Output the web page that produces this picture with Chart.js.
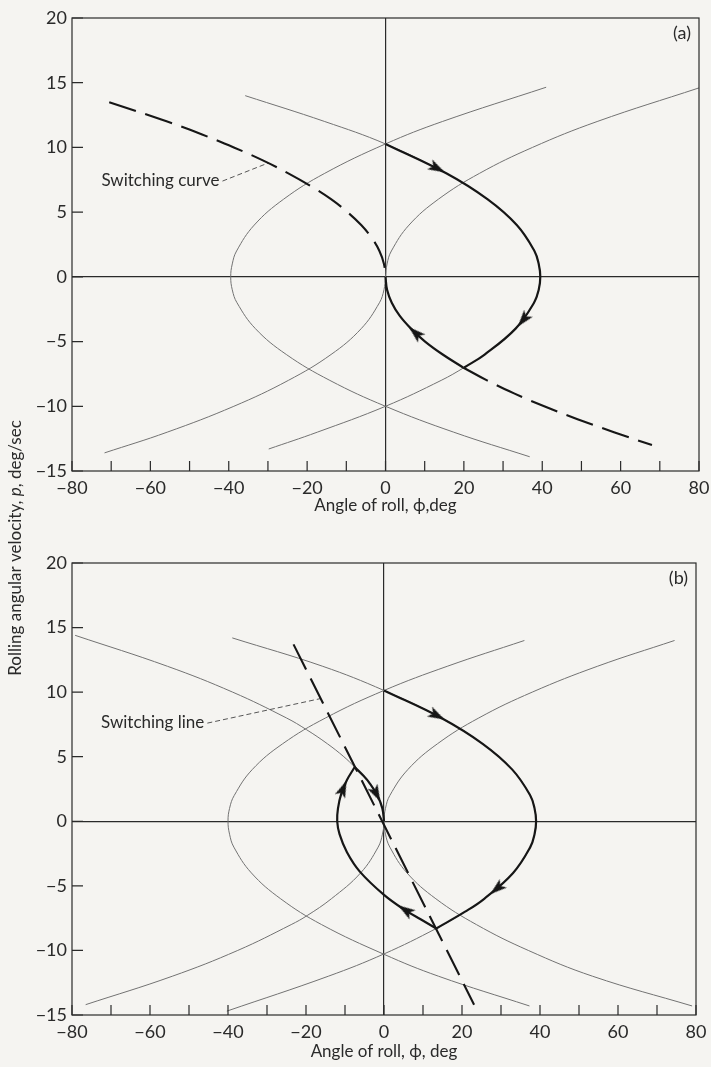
<!DOCTYPE html>
<html><head><meta charset="utf-8">
<script src="https://cdn.jsdelivr.net/npm/chart.js@4.4.1/dist/chart.umd.min.js"></script>
<style>
html,body{margin:0;padding:0;background:#f5f4f1;}
#wrap{position:relative;width:711px;height:1067px;overflow:hidden;background:#f5f4f1;}
canvas{position:absolute;left:0;}
</style></head>
<body><div id="wrap">
<canvas id="ca" width="711" height="1067" style="top:0"></canvas>
<canvas id="cb" width="711" height="527" style="top:540px"></canvas>
</div>
<script>
// ---------- tick labels ----------
const xTickLabels = [-80, -60, -40, -20, 0, 20, 40, 60, 80];
const yTickLabels = [-15, -10, -5, 0, 5, 10, 15, 20];

// ---------- panel (a) curves: phi (deg), p (deg/sec) ----------
const aR40_phi = [36.8, 17.4, 0, -14.2, -25.3, -33.2, -37.9, -39.1, -39.5, -39.1, -38, -33.5, -26, -15.5, 0, 14.5, 41];
const aR40_p   = [-13.9, -12, -10, -8, -6, -4, -2, -1, 0, 1, 2, 4, 6, 8, 10.27, 12, 14.65];

const aL40_phi = [-35.8, -15.5, 0, 15.5, 26, 33.5, 38, 39.1, 39.5, 39.1, 37.9, 33.2, 25.3, 20.1, 14.2, 0, -17.4, -29.8];
const aL40_p   = [14.0, 12, 10.27, 8, 6, 4, 2, 1, 0, -1, -2, -4, -6, -7, -8, -10, -12, -13.3];

const aV0R_phi = [80, 54, 37.5, 24, 13.5, 6, 1.5, 0.4, 0, 0.4, 1.6, 3.6, 6.5, 10.1, 14.6, 19.8, 25.9, 32.8, 40.5, 49, 58.3, 68];
const aV0R_p   = [14.6, 12, 10, 8, 6, 4, 2, 1, 0, -1, -2, -3, -4, -5, -6, -7, -8, -9, -10, -11, -12, -13];

const aV0L_phi = [-70.5, -55.7, -46.8, -38.7, -31.3, -24.8, -19, -13.9, -9.7, -6.2, -3.5, -1.55, -0.39, 0, -0.39, -1.55, -6.2, -13.9, -24.8, -38.7, -55.7, -71.7];
const aV0L_p   = [13.5, 12, 11, 10, 9, 8, 7, 6, 5, 4, 3, 2, 1, 0, -1, -2, -4, -6, -8, -10, -12, -13.6];

const aArrow_phi = [13.1, 35.2, 7.7];
const aArrow_p   = [8.4, -3.3, -4.35];
const aArrowTo_phi = [15.0, 34.4, 6.6];
const aArrowTo_p   = [8.1, -3.6, -4.05];

const aLeader_phi = [-41.6, -29.9];
const aLeader_p   = [7.4, 8.8];

// ---------- panel (b) curves ----------
const bR40_phi = [37.3, 14, 0, -16, -26.5, -34, -38.5, -39.6, -40, -39.6, -38.4, -33.8, -26, -15, 0, 16.2, 36];
const bR40_p   = [-14.3, -12, -10.3, -8, -6, -4, -2, -1, 0, 1, 2, 4, 6, 8, 10.13, 12, 14.0];

const bL39_phi = [-38.9, -15.7, 0, 14.7, 25.3, 32.9, 37.5, 38.6, 39, 38.6, 37.5, 33.1, 25.7, 20.8, 13.4, 0, -14.3, -40.3];
const bL39_p   = [14.2, 12, 10.13, 8, 6, 4, 2, 1, 0, -1, -2, -4, -6, -7, -8.3, -10.27, -12, -14.7];

const bV0R_phi = [74.5, 54.7, 38, 24.3, 13.7, 6.1, 1.5, 0.38, 0, 0.38, 1.5, 5.9, 13.3, 23.7, 37, 53.5, 79];
const bV0R_p   = [14, 12, 10, 8, 6, 4, 2, 1, 0, -1, -2, -4, -6, -8, -10, -12, -14.3];

const bV0L_phi = [-79.2, -55.5, -38.8, -25, -19.9, -14.5, -10.3, -7.5, -5.2, -3.8, -1.7, -0.42, 0, -0.4, -1.5, -6, -13.5, -19.7, -23.8, -37.5, -54.3, -76.5];
const bV0L_p   = [14.4, 12, 10, 8, 7.1, 6, 5, 4.2, 3.5, 3, 2, 1, 0, -1, -2, -4, -6, -7.3, -8, -10, -12, -14.2];

const bLoop_phi = [13.4, 9.5, 5.5, 0, -6.2, -9.5, -11.4, -12, -11.8, -10.9, -9.5, -7.5];
const bLoop_p   = [-8.3, -7.6, -6.9, -5.7, -3.9, -2.4, -1.0, 0, 1.0, 2.2, 3.2, 4.2];

const bSwitch_phi = [-23.2, 23.1];
const bSwitch_p   = [13.7, -14.2];

const bArrow_phi = [13.5, 29.0, 5.6, -10.5, -2.0];
const bArrow_p   = [8.2, -5.2, -6.9, 2.5, 2.15];
const bArrowTo_phi = [15.4, 27.8, 4.1, -10.0, -1.4];
const bArrowTo_p   = [7.9, -5.5, -6.6, 2.86, 1.8];

const bLeader_phi = [-45.3, -16.3];
const bLeader_p   = [7.6, 9.5];

// ---------- helpers ----------
const FONT = 'Lato, "Open Sans", sans-serif';
const INK = '#2a2a2a';
const THIN = '#727272';
const zip = (xs, ys, from = 0, to = xs.length - 1) => xs.slice(from, to + 1).map((v, i) => ({x: v, y: ys[from + i]}));
const fmt = v => (v < 0 ? '\u2212' + Math.abs(v) : String(v));

// arrowhead image
const arrowImg = document.createElement('canvas');
arrowImg.width = 11; arrowImg.height = 18;
(function () {
  const c = arrowImg.getContext('2d');
  c.fillStyle = '#151515';
  c.beginPath();
  c.moveTo(5.5, 0); c.lineTo(11, 17); c.lineTo(5.5, 13); c.lineTo(0, 17); c.closePath();
  c.fill();
})();

function thin(data) {
  return {data, showLine: true, borderColor: THIN, borderWidth: 1, pointRadius: 0, tension: 0.4, fill: false, order: 5};
}
function thick(data) {
  return {data, showLine: true, borderColor: '#161616', borderWidth: 2.2, pointRadius: 0, tension: 0.4, fill: false, order: 3};
}
function dashed(data) {
  return {data, showLine: true, borderColor: '#161616', borderWidth: 2.1, borderDash: [28, 10], pointRadius: 0, tension: 0.4, fill: false, order: 3};
}
function leader(data) {
  return {data, showLine: true, borderColor: '#555', borderWidth: 1, borderDash: [5, 3], pointRadius: 0, tension: 0, fill: false, order: 4};
}
function arrows(phi, p, tphi, tp) {
  return {
    data: phi.map((v, i) => ({x: v, y: p[i], tx: tphi[i], ty: tp[i]})),
    showLine: false, order: 1, pointStyle: arrowImg, pointRadius: 9,
    rotation: ctx => {
      const ch = ctx.chart, r = ctx.raw;
      if (!r || !ch.scales.x) return 0;
      const x0 = ch.scales.x.getPixelForValue(r.x), y0 = ch.scales.y.getPixelForValue(r.y);
      const x1 = ch.scales.x.getPixelForValue(r.tx), y1 = ch.scales.y.getPixelForValue(r.ty);
      return Math.atan2(x1 - x0, -(y1 - y0)) * 180 / Math.PI;
    }
  };
}

const decor = {
  id: 'decor',
  afterDatasetsDraw(chart, args, o) {
    const {ctx, chartArea: a, scales: {x, y}} = chart;
    ctx.save();
    ctx.strokeStyle = INK; ctx.lineWidth = 1.2;
    ctx.strokeRect(a.left, a.top, a.right - a.left, a.bottom - a.top);
    ctx.beginPath();
    for (const t of x.ticks) {
      const px = x.getPixelForValue(t.value);
      ctx.moveTo(px, a.bottom); ctx.lineTo(px, a.bottom - 10);
    }
    for (const t of y.ticks) {
      const py = y.getPixelForValue(t.value);
      ctx.moveTo(a.left, py); ctx.lineTo(a.left + 11, py);
    }
    ctx.stroke();
    ctx.fillStyle = INK;
    ctx.font = '18px ' + FONT;
    ctx.textAlign = 'right'; ctx.textBaseline = 'middle';
    ctx.fillText(o.panel, a.right - 8, a.top + 15);
    ctx.font = '17px ' + FONT;
    ctx.fillText(o.callout, x.getPixelForValue(o.lx) - 3, y.getPixelForValue(o.ly) - 1);
    // shared y-axis title
    if (o.ytitle) {
      const parts = [[o.ytitle[0], ''], [o.ytitle[1], 'italic '], [o.ytitle[2], '']];
      let total = 0;
      for (const [t, st] of parts) { ctx.font = st + '17px ' + FONT; total += ctx.measureText(t).width; }
      ctx.translate(16, 548);
      ctx.rotate(-Math.PI / 2);
      ctx.textAlign = 'left';
      let cx = -total / 2;
      for (const [t, st] of parts) {
        ctx.font = st + '17px ' + FONT;
        ctx.fillText(t, cx, 0);
        cx += ctx.measureText(t).width;
      }
    }
    ctx.restore();
  }
};

function makeChart(id, datasets, cfg) {
  return new Chart(document.getElementById(id), {
    type: 'scatter',
    data: {datasets},
    plugins: [decor],
    options: {
      responsive: false, animation: false, devicePixelRatio: 1, events: [],
      layout: {padding: {top: cfg.padTop, right: cfg.padRight, left: 0, bottom: cfg.padBottom}},
      plugins: {legend: {display: false}, tooltip: {enabled: false},
        decor: {panel: cfg.panel, callout: cfg.callout, lx: cfg.lx, ly: cfg.ly, ytitle: cfg.ytitle}},
      scales: {
        x: {
          type: 'linear', min: -80, max: 80,
          afterFit: s => { s.height = cfg.xh; s.paddingLeft = 0; s.paddingRight = 0; },
          border: {display: false},
          grid: {drawTicks: false, color: c => (c.tick && c.tick.value === 0 ? INK : 'rgba(0,0,0,0)'), lineWidth: c => (c.tick && c.tick.value === 0 ? 1.2 : 0)},
          ticks: {stepSize: 10, autoSkip: false, maxRotation: 0, padding: 6, color: INK, font: {family: FONT, size: 18},
            callback: v => (xTickLabels.includes(v) ? fmt(v) : '')},
          title: {display: true, text: cfg.xtitle, color: INK, font: {family: FONT, size: 17}, padding: {top: 0, bottom: cfg.titlePad}}
        },
        y: {
          type: 'linear', min: -15, max: 20,
          afterFit: s => { s.width = 72; s.paddingTop = 0; s.paddingBottom = 0; },
          border: {display: false},
          grid: {drawTicks: false, color: c => (c.tick && c.tick.value === 0 ? INK : 'rgba(0,0,0,0)'), lineWidth: c => (c.tick && c.tick.value === 0 ? 1.2 : 0)},
          ticks: {stepSize: 5, padding: 5, color: INK, font: {family: FONT, size: 18},
            callback: v => (yTickLabels.includes(v) ? fmt(v) : '')}
        }
      }
    }
  });
}

makeChart('ca', [
  arrows(aArrow_phi, aArrow_p, aArrowTo_phi, aArrowTo_p),
  thick(zip(aL40_phi, aL40_p, 2, 13)),
  thick(zip(aV0R_phi, aV0R_p, 8, 15)),
  dashed(zip(aV0R_phi, aV0R_p, 15, 21)),
  dashed(zip(aV0L_phi, aV0L_p, 0, 13)),
  thin(zip(aV0L_phi, aV0L_p, 13, 21)),
  thin(zip(aV0R_phi, aV0R_p, 0, 8)),
  thin(zip(aL40_phi, aL40_p)),
  thin(zip(aR40_phi, aR40_p)),
  leader(zip(aLeader_phi, aLeader_p))
], {padTop: 18, padRight: 12, padBottom: 537, xh: 59, titlePad: 14, xtitle: 'Angle of roll, \u03d5,deg', panel: '(a)',
    callout: 'Switching curve', lx: aLeader_phi[0], ly: aLeader_p[0],
    ytitle: ['Rolling angular velocity, ', 'p', ', deg/sec']});

makeChart('cb', [
  arrows(bArrow_phi, bArrow_p, bArrowTo_phi, bArrowTo_p),
  thick(zip(bL39_phi, bL39_p, 2, 14)),
  thick(zip(bLoop_phi, bLoop_p)),
  thick(zip(bV0L_phi, bV0L_p, 7, 12)),
  dashed(zip(bSwitch_phi, bSwitch_p)),
  thin(zip(bV0L_phi, bV0L_p)),
  thin(zip(bV0R_phi, bV0R_p)),
  thin(zip(bL39_phi, bL39_p)),
  thin(zip(bR40_phi, bR40_p)),
  leader(zip(bLeader_phi, bLeader_p))
], {padTop: 23, padRight: 15, padBottom: 0, xh: 52, titlePad: 5, xtitle: 'Angle of roll, \u03d5, deg', panel: '(b)',
    callout: 'Switching line', lx: bLeader_phi[0], ly: bLeader_p[0], ytitle: null});
</script>
</body></html>
